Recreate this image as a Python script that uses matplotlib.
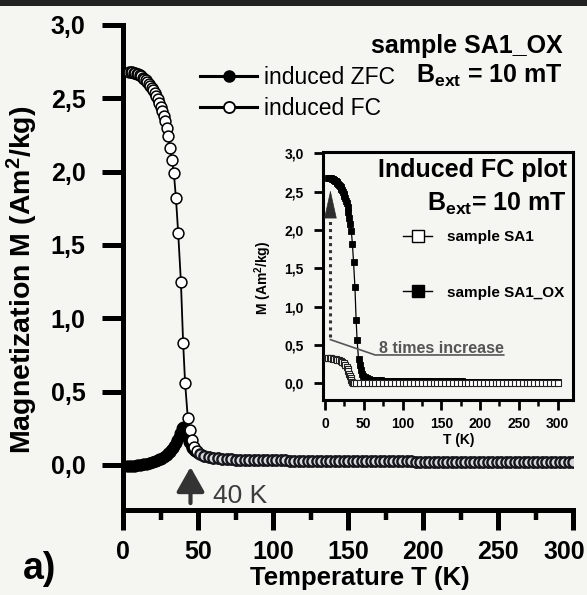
import matplotlib
matplotlib.use("Agg")
import matplotlib.pyplot as plt
from matplotlib.lines import Line2D
from matplotlib.patches import Rectangle
from matplotlib.ticker import MultipleLocator
from matplotlib.transforms import ScaledTranslation

plt.rcParams["font.family"] = ["Liberation Sans", "DejaVu Sans"]
plt.rcParams["font.weight"] = "bold"

# ---------------- data ----------------
# shared high-temperature tail (ZFC and FC coincide above the blocking peak)
tail_T = [51, 54, 57, 60, 63, 66, 69, 72, 75, 78, 81, 84, 87, 90, 93, 96, 99, 102,
          105, 108, 111, 114, 117, 120, 123, 126, 129, 132, 135, 138, 141, 144, 147,
          150, 153, 156, 159, 162, 165, 168, 171, 174, 177, 180, 183, 186, 189, 192,
          195, 198, 201, 204, 207, 210, 213, 216, 219, 222, 225, 228, 231, 234, 237,
          240, 243, 246, 249, 252, 255, 258, 261, 264, 267, 270, 273, 276, 279, 282,
          285, 288, 291, 294, 297, 300]
tail_M = [0.078, 0.064, 0.055, 0.049, 0.045, 0.042, 0.040, 0.038, 0.037, 0.036,
          0.035, 0.034, 0.034, 0.033, 0.033, 0.032, 0.032, 0.031, 0.031, 0.031,
          0.030, 0.030, 0.030, 0.029, 0.029, 0.029, 0.028, 0.028, 0.028, 0.028,
          0.027, 0.027, 0.027, 0.027, 0.026, 0.026, 0.026, 0.026, 0.025, 0.025,
          0.025, 0.025, 0.025, 0.024, 0.024, 0.024, 0.024, 0.024, 0.023, 0.023,
          0.023, 0.023, 0.023, 0.022, 0.022, 0.022, 0.022, 0.022, 0.021, 0.021,
          0.021, 0.021, 0.021, 0.021, 0.020, 0.020, 0.020, 0.020, 0.020, 0.020,
          0.019, 0.019, 0.019, 0.019, 0.019, 0.019, 0.018, 0.018, 0.018, 0.018,
          0.018, 0.018, 0.018, 0.017]

# induced FC, sample SA1_OX, below 50 K
fc_T_low = [4, 5, 6, 7, 8, 9, 10, 11, 12, 13, 14, 15, 16, 17, 18, 19, 20, 21, 22, 23,
            24, 25, 26, 27, 28, 29, 30, 31.3, 32.6, 33.9, 35.3, 36.8, 38.6, 40.1, 41.4,
            43.2, 44.5, 45.9, 47.4, 49.0]
fc_M_low = [2.68, 2.68, 2.678, 2.675, 2.672, 2.668, 2.663, 2.657, 2.65, 2.642,
            2.633, 2.623, 2.612, 2.600, 2.586, 2.571, 2.555, 2.537, 2.517, 2.495,
            2.470, 2.442, 2.412, 2.38, 2.345, 2.30, 2.24, 2.16, 2.08, 1.99,
            1.82, 1.58, 1.25, 0.83, 0.56, 0.32, 0.24, 0.17, 0.125, 0.095]

# induced ZFC, sample SA1_OX, below 50 K
zfc_T_low = [2, 3, 4, 5, 6, 7, 8, 9, 10, 11, 12, 13, 14, 15, 16, 17, 18, 19, 20, 21,
             22, 23, 24, 25, 26, 27, 28, 29, 30, 31, 32, 33, 34, 35, 36, 37, 38, 39, 40,
             41, 42, 43, 44, 45, 46, 47, 48, 49, 50]
zfc_M_low = [-0.010, -0.009, -0.008, -0.007, -0.006, -0.005, -0.004, -0.003, -0.001, 0.000,
             0.002, 0.004, 0.006, 0.008, 0.010, 0.013, 0.016, 0.019, 0.022, 0.026,
             0.030, 0.034, 0.039, 0.044, 0.050, 0.056, 0.063, 0.071, 0.080, 0.090,
             0.102, 0.116, 0.132, 0.150, 0.170, 0.193, 0.220, 0.250, 0.262, 0.245,
             0.215, 0.185, 0.158, 0.135, 0.117, 0.103, 0.093, 0.086, 0.081]

fc_T = fc_T_low + tail_T
fc_M = fc_M_low + tail_M
zfc_T = zfc_T_low + tail_T
zfc_M = zfc_M_low + tail_M

# induced FC, sample SA1 (inset)
sa1_T = [2, 4, 6, 8, 10, 12, 14, 16, 18, 20, 22, 24, 26, 28, 29, 30, 31, 32, 33, 34,
         35, 36, 38, 40, 45, 50, 55, 60, 65, 70, 75, 80, 85, 90, 95, 100, 105, 110,
         115, 120, 125, 130, 135, 140, 145, 150, 155, 160, 165, 170, 175, 180, 185,
         190, 195, 200, 205, 210, 215, 220, 225, 230, 235, 240, 245, 250, 255, 260,
         265, 270, 275, 280, 285, 290, 295, 300]
sa1_M = [0.330, 0.330, 0.328, 0.326, 0.323, 0.320, 0.316, 0.310, 0.302, 0.292,
         0.280, 0.265, 0.245, 0.210, 0.185, 0.155, 0.125, 0.095, 0.065, 0.040,
         0.020, 0.010, 0.005, 0.004, 0.003, 0.003, 0.003, 0.002, 0.002, 0.002,
         0.002, 0.002, 0.002, 0.002, 0.002, 0.002, 0.002, 0.002, 0.002, 0.002,
         0.001, 0.001, 0.001, 0.001, 0.001, 0.001, 0.001, 0.001, 0.001, 0.001,
         0.001, 0.001, 0.001, 0.001, 0.001, 0.001, 0.001, 0.001, 0.001, 0.001,
         0.001, 0.001, 0.001, 0.001, 0.001, 0.001, 0.001, 0.001, 0.001, 0.001,
         0.001, 0.001, 0.001, 0.001, 0.001, 0.001]

main_xticks = [0, 50, 100, 150, 200, 250, 300]
main_yticks = [0.0, 0.5, 1.0, 1.5, 2.0, 2.5, 3.0]
main_yticklabels = ["0,0", "0,5", "1,0", "1,5", "2,0", "2,5", "3,0"]
legend_labels = ["induced ZFC", "induced FC"]
inset_legend_labels = ["sample SA1", "sample SA1_OX"]

# annotation anchors (data units)
peak_arrow_T = 45
peak_label = "40 K"
increase_path_T = [7, 64.7, 230.5]
increase_path_M = [0.57, 0.37, 0.37]
increase_arrow_T = 7
increase_arrow_M = [0.60, 2.17, 2.52]

# ---------------- figure ----------------
W, H = 587, 595
BG = "#f5f5f2"
fig = plt.figure(figsize=(W / 100, H / 100), dpi=100, facecolor=BG)
fig.patches.append(Rectangle((0, 1 - 6 / H), 1, 6 / H, transform=fig.transFigure,
                             facecolor="#222222", edgecolor="none"))

ax = fig.add_axes([123 / W, 1 - 510 / H, 450 / W, 485 / H], facecolor="none")
ax.set_xlim(0, 300)
ax.set_ylim(-0.307, 3.0)
for s in ("top", "right"):
    ax.spines[s].set_visible(False)
for s in ("left", "bottom"):
    ax.spines[s].set_linewidth(3.6)

ax.set_xticks(main_xticks)
ax.xaxis.set_minor_locator(MultipleLocator(25))
ax.set_yticks(main_yticks)
ax.set_yticklabels(main_yticklabels)
ax.tick_params(axis="x", which="major", length=14.5, width=3.6, pad=7, labelsize=18)
ax.tick_params(axis="x", which="minor", length=7, width=3.2)
ax.tick_params(axis="y", which="major", length=15, width=3.6, pad=12, labelsize=18)

# keep the last x tick label inside the canvas
last = ax.xaxis.get_major_ticks()[-1].label1
last.set_transform(last.get_transform() + ScaledTranslation(-9 / 100, 0, fig.dpi_scale_trans))

ax.plot(zfc_T, zfc_M, "-", color="k", lw=1.2, marker="o", ms=7.6, mfc="k",
        mec="k", mew=1.0, zorder=3)
# FC curve: connecting line, then markers (the dense tail overlaps heavily)
ax.plot(fc_T, fc_M, "-", color="k", lw=1.3, zorder=4)
ax.plot(fc_T_low, fc_M_low, "none", marker="o", ms=7.8, mfc="white",
        mec="k", mew=1.1, zorder=4)
ax.plot(tail_T, tail_M, "none", marker="o", ms=7.4, mfc="#d8d8dc",
        mec="#15151c", mew=1.7, zorder=4)

ax.annotate("", xy=(peak_arrow_T, -0.014), xytext=(peak_arrow_T, -0.26),
            arrowprops=dict(arrowstyle="-|>,head_length=1.5,head_width=0.85",
                            mutation_scale=10, lw=3, color="#333333",
                            shrinkA=0, shrinkB=0))
ax.text(60, -0.26, peak_label, fontsize=19, fontweight="normal", color="#3c3c3c",
        ha="left", va="baseline")

handles = [Line2D([], [], color="k", lw=2.2, marker="o", ms=8, mfc="k", mec="k"),
           Line2D([], [], color="k", lw=2.2, marker="o", ms=8, mfc="white", mec="k", mew=1.3)]
ax.legend(handles, legend_labels, loc="center left",
          bbox_to_anchor=(200 / W, 1 - 93 / H), bbox_transform=fig.transFigure,
          frameon=False, prop={"size": 16.5, "weight": "normal"},
          handlelength=2.5, handletextpad=0.3, labelspacing=0.36,
          borderpad=0, borderaxespad=0)

fig.text(563 / W, 1 - 53 / H, "sample SA1_OX", ha="right", va="baseline",
         fontsize=18, fontweight="bold")
fig.text(563 / W, 1 - 83 / H, r"$\mathregular{B_{ext}}$ = 10 mT", ha="right",
         va="baseline", fontsize=18, fontweight="bold")

fig.text(22 / W, 1 - 280 / H, r"Magnetization M (A$\mathregular{m^2}$/kg)",
         rotation=90, ha="center", va="center", fontsize=20.5, fontweight="bold")
fig.text(360 / W, 1 - 578 / H, "Temperature T (K)", ha="center", va="center",
         fontsize=18.5, fontweight="bold")
fig.text(23 / W, 1 - 579 / H, "a)", ha="left", va="baseline", fontsize=27,
         fontweight="bold")

# ---------------- inset ----------------
axi = fig.add_axes([322.7 / W, 1 - 400 / H, (573.3 - 322.7) / W, (400 - 151.7) / H],
                   facecolor="none")
axi.set_xlim(-3, 320.3)
axi.set_ylim(-0.217, 3.02)
for s in axi.spines.values():
    s.set_linewidth(2.2)
axi.set_xticks(main_xticks)
axi.xaxis.set_minor_locator(MultipleLocator(25))
axi.set_yticks(main_yticks)
axi.set_yticklabels(main_yticklabels)
axi.tick_params(axis="x", which="major", length=7, width=2, pad=5, labelsize=10)
axi.tick_params(axis="x", which="minor", length=4.5, width=1.8)
axi.tick_params(axis="y", which="major", length=6.5, width=2, pad=7, labelsize=10)

axi.plot(fc_T, fc_M, "-", color="k", lw=0.9, marker="s", ms=3.8, mfc="k",
         mec="k", mew=0.6, zorder=3)
axi.plot(sa1_T, sa1_M, "-", color="k", lw=0.8, marker="s", ms=3.8, mfc="white",
         mec="#222222", mew=0.8, zorder=4)

axi.plot(increase_path_T, increase_path_M, "-", color="#555555", lw=1.2, zorder=5)
axi.text(231, 0.40, "8 times increase", ha="right", va="baseline", fontsize=11.5,
         fontweight="bold", color="#555555")
axi.plot([increase_arrow_T, increase_arrow_T], increase_arrow_M[:2], color="#333333",
         lw=2.2, linestyle=(0, (1, 1.3)), zorder=5)
axi.annotate("", xy=(increase_arrow_T, increase_arrow_M[2]),
             xytext=(increase_arrow_T, increase_arrow_M[1]),
             arrowprops=dict(arrowstyle="-|>,head_length=1.9,head_width=0.42",
                             mutation_scale=10, lw=0.5, color="#2d2d2d",
                             shrinkA=0, shrinkB=0))

fig.text(567 / W, 1 - 177 / H, "Induced FC plot", ha="right", va="baseline",
         fontsize=18, fontweight="bold")
fig.text(567 / W, 1 - 211 / H, r"$\mathregular{B_{ext}}$= 10 mT", ha="right",
         va="baseline", fontsize=18, fontweight="bold")

ihandles = [Line2D([], [], color="k", lw=1.0, marker="s", ms=8, mfc="white", mec="k", mew=1.0),
            Line2D([], [], color="k", lw=1.0, marker="s", ms=8, mfc="k", mec="k")]
axi.legend(ihandles, inset_legend_labels, loc="center left",
           bbox_to_anchor=(403 / W, 1 - 265 / H), bbox_transform=fig.transFigure,
           frameon=False, prop={"size": 11, "weight": "bold"},
           handlelength=1.9, handletextpad=1.0, labelspacing=2.7,
           borderpad=0, borderaxespad=0)

fig.text(459 / W, 1 - 440 / H, "T (K)", ha="center", va="center", fontsize=10,
         fontweight="bold")
fig.text(263 / W, 1 - 278 / H, r"M (A$\mathregular{m^2}$/kg)", rotation=90,
         ha="center", va="center", fontsize=10, fontweight="bold")

fig.savefig("out.png", dpi=100, facecolor=BG)
